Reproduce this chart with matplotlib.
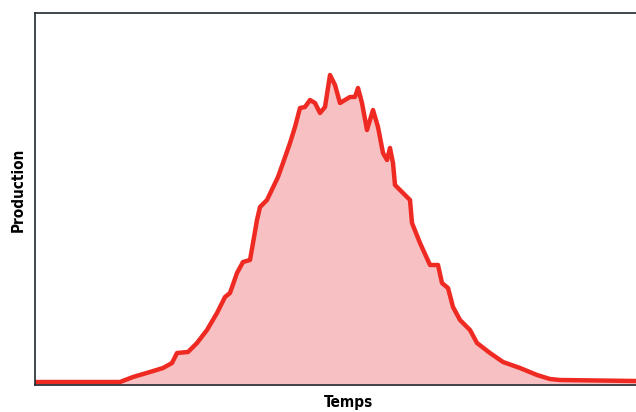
import numpy as np
import matplotlib.pyplot as plt

# values (time index, production level)
temps = [0, 85, 98, 115, 128, 137, 142, 153, 162, 172, 182, 190, 195, 202,
         208, 215, 218, 222, 225, 232, 243, 248, 255, 260, 265, 270, 275, 280,
         285, 290, 295, 300, 305, 310, 315, 320, 323, 327, 332, 338, 343, 348,
         352, 355, 358, 360, 368, 375, 377, 385, 395, 403, 407, 413, 418, 425,
         435, 442, 455, 468, 485, 502, 515, 525, 601]
production = [3, 3, 8, 13, 17, 22, 32, 33, 42, 55, 72, 88, 92, 112,
              123, 125, 142, 165, 178, 185, 208, 222, 242, 258, 277, 278, 285, 282,
              272, 278, 310, 300, 282, 285, 288, 288, 297, 282, 255, 275, 258, 232,
              225, 237, 222, 200, 192, 185, 162, 142, 120, 120, 102, 97, 78, 65,
              55, 42, 32, 23, 17, 10, 6, 5, 4]

plt.rcParams['font.family'] = ['Liberation Sans Narrow', 'DejaVu Sans']

fig = plt.figure(figsize=(6.36, 4.12), dpi=100)
ax = fig.add_axes([35/636, 27/412, 630/636, 372/412])

ax.fill_between(temps, production, 0, color='#f7c1c3', lw=0)
ax.plot(temps, production, color='#ee2a22', lw=3.2, solid_joinstyle='round')

ax.set_xlim(0, 630)
ax.set_ylim(0, 372)
ax.set_xticks([])
ax.set_yticks([])
for s in ax.spines.values():
    s.set_color('#1f2a30')
    s.set_linewidth(1.2)

fig.text(349/636, 1 - 403/412, 'Temps', fontsize=11, fontweight='bold',
         fontstretch='condensed', ha='center', va='center')
fig.text(18/636, 1 - 190/412, 'Production', fontsize=11, fontweight='bold',
         fontstretch='condensed', rotation=90, ha='center', va='center')

fig.savefig('out.png', dpi=100)
